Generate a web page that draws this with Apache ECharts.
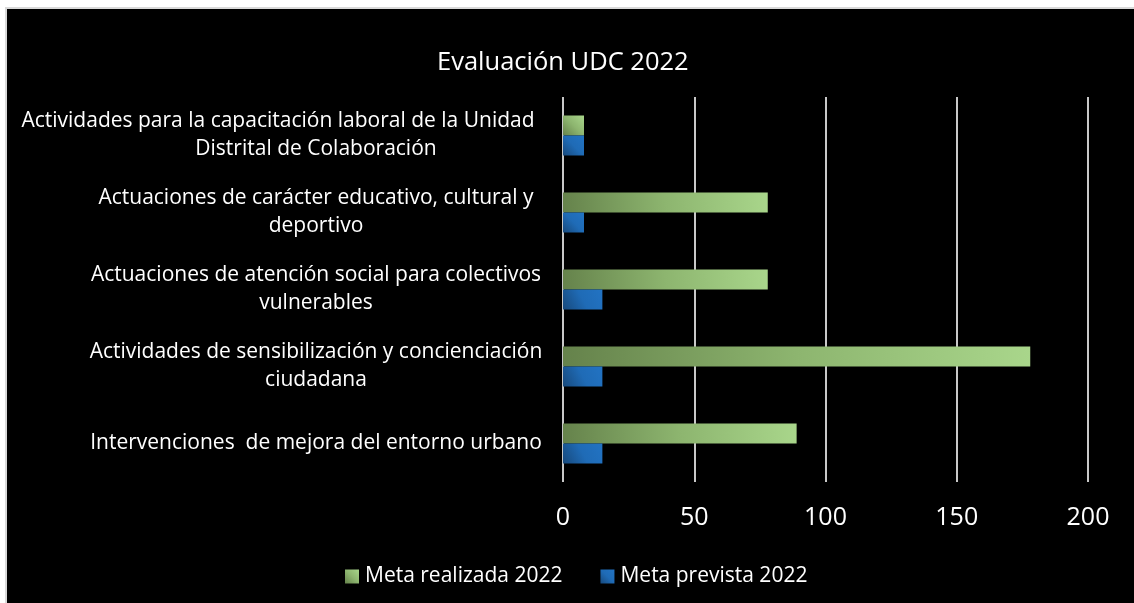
<!DOCTYPE html>
<html>
<head>
<meta charset="utf-8">
<script src="https://cdn.jsdelivr.net/npm/echarts@6/dist/echarts.min.js"></script>
<style>
	html, body { margin: 0; padding: 0; background: #fff; }
	#frame { position: absolute; left: 5px; top: 7px; border-left: 2px solid #d9d9d9; border-top: 2px solid #d9d9d9; }
	#main { width: 1127px; height: 594px; background: #000; }
</style>
</head>
<body>
<div id="frame"><div id="main"></div></div>
<script>
// categorias de arriba a abajo
var categories = [
	'Actividades para la capacitación laboral de la Unidad\nDistrital de Colaboración',
	'Actuaciones de carácter educativo, cultural y\ndeportivo',
	'Actuaciones de atención social para colectivos\nvulnerables',
	'Actividades de sensibilización y concienciación\nciudadana',
	'Intervenciones  de mejora del entorno urbano'
];
var metaRealizada = [8, 78, 78, 178, 89];
var metaPrevista = [8, 8, 15, 15, 15];
var xTicks = [0, 50, 100, 150, 200];

var font = 'Open Sans';

var myChart = echarts.init(document.getElementById('main'));
var option = {
	backgroundColor: '#000',
	animation: false,
	title: {
		text: 'Evaluación UDC 2022',
		left: 425,
		top: 36,
		textStyle: { color: '#fff', fontFamily: font, fontSize: 25.5, fontWeight: 'normal' }
	},
	legend: {
		left: 333,
		top: 552,
		itemWidth: 14,
		itemHeight: 14,
		itemGap: 38,
		icon: 'rect',
		textStyle: { color: '#fff', fontFamily: font, fontSize: 21, padding: [0, 0, 0, 1] },
		data: ['Meta realizada 2022', 'Meta prevista 2022']
	},
	grid: {
		left: 556,
		right: 46,
		top: 88,
		bottom: 121
	},
	xAxis: {
		type: 'value',
		min: xTicks[0],
		max: xTicks[xTicks.length - 1],
		interval: 50,
		axisLine: { show: false },
		axisTick: { show: false },
		axisLabel: { color: '#fff', fontFamily: font, fontSize: 25, margin: 23 },
		splitLine: { show: true, lineStyle: { color: '#c8c8c8', width: 2 } }
	},
	yAxis: {
		type: 'category',
		inverse: true,
		data: categories,
		axisLine: { show: false },
		axisTick: { show: false },
		axisLabel: {
			color: '#fff',
			fontFamily: font,
			fontSize: 21,
			lineHeight: 28,
			align: 'center',
			margin: 247,
			// la primera linea larga se corre a la izquierda como en Excel
			formatter: function(v) {
				var lines = v.split('\n');
				return lines.map(function(l) {
					return l.length > 50 ? '{w|' + l + '}' : '{n|' + l + '}';
				}).join('\n');
			},
			rich: {
				n: { color: '#fff', fontFamily: font, fontSize: 21, lineHeight: 28 },
				w: { color: '#fff', fontFamily: font, fontSize: 21, lineHeight: 28, padding: [0, 76, 0, 0] }
			}
		}
	},
	series: [
		{
			name: 'Meta realizada 2022',
			type: 'bar',
			barWidth: 20,
			barGap: '0%',
			data: metaRealizada,
			itemStyle: {
				color: new echarts.graphic.LinearGradient(0, 1, 1, 0, [
					{ offset: 0, color: '#65824b' },
					{ offset: 0.5, color: '#8db56f' },
					{ offset: 1, color: '#a9d68b' }
				])
			}
		},
		{
			name: 'Meta prevista 2022',
			type: 'bar',
			barWidth: 20,
			barGap: '0%',
			data: metaPrevista,
			itemStyle: {
				color: new echarts.graphic.LinearGradient(0, 1, 1, 0, [
					{ offset: 0, color: '#17497c' },
					{ offset: 0.5, color: '#1f6bb6' },
					{ offset: 1, color: '#2273c3' }
				])
			}
		}
	]
};
myChart.setOption(option);
</script>
</body>
</html>
